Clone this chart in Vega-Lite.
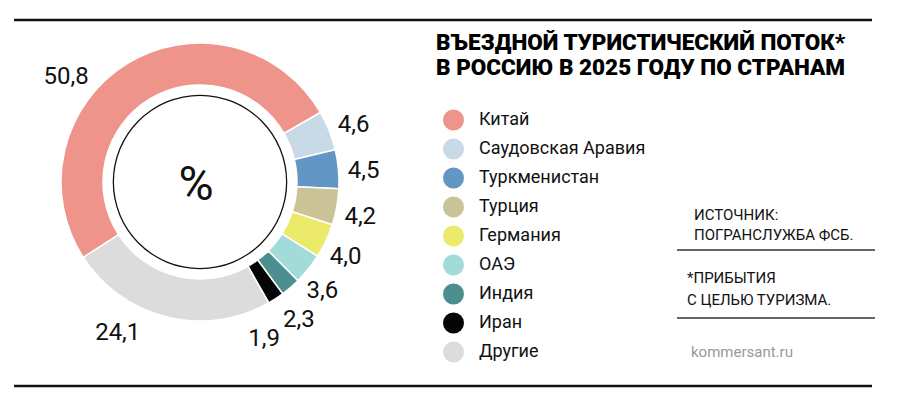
{
  "$schema": "https://vega.github.io/schema/vega-lite/v6.json",
  "background": "#ffffff",
  "padding": {"left": 12, "top": 18, "right": 27, "bottom": 12},
  "spacing": 0,
  "config": {
    "view": {"stroke": null},
    "locale": {"number": {"decimal": ",", "thousands": " ", "grouping": [3], "currency": ["", ""]}},
    "font": "Roboto"
  },
  "vconcat": [
    {
      "width": 858,
      "height": 1,
      "data": {"values": [{}]},
      "mark": {"type": "rule", "color": "#111111", "strokeWidth": 2.5},
      "encoding": {"y": {"value": 0}}
    },
    {
      "hconcat": [
        {
          "width": 372,
          "height": 320,
          "data": {
            "values": [
              {"country": "Китай", "value": 50.8, "order": 1},
              {"country": "Саудовская Аравия", "value": 4.6, "order": 2},
              {"country": "Туркменистан", "value": 4.5, "order": 3},
              {"country": "Турция", "value": 4.2, "order": 4},
              {"country": "Германия", "value": 4.0, "order": 5},
              {"country": "ОАЭ", "value": 3.6, "order": 6},
              {"country": "Индия", "value": 2.3, "order": 7},
              {"country": "Иран", "value": 1.9, "order": 8},
              {"country": "Другие", "value": 24.1, "order": 9}
            ]
          },
          "layer": [
            {
              "mark": {"type": "arc", "innerRadius": 97, "outerRadius": 139, "stroke": "#ffffff", "strokeWidth": 1.5},
              "encoding": {
                "theta": {"field": "value", "type": "quantitative", "stack": true, "scale": {"range": [-2.1447, 4.1385]}},
                "order": {"field": "order", "type": "quantitative"},
                "color": {
                  "field": "country",
                  "type": "nominal",
                  "scale": {
                    "domain": ["Китай", "Саудовская Аравия", "Туркменистан", "Турция", "Германия", "ОАЭ", "Индия", "Иран", "Другие"],
                    "range": ["#ee948a", "#c8d9e8", "#6396c3", "#c9c397", "#ebea6b", "#a2dcd9", "#4d8e91", "#050505", "#dcdcdc"]
                  },
                  "legend": {
                    "orient": "none",
                    "legendX": 422,
                    "legendY": 12,
                    "title": ["ВЪЕЗДНОЙ ТУРИСТИЧЕСКИЙ ПОТОК*", "В РОССИЮ В 2025 ГОДУ ПО СТРАНАМ"],
                    "titleFont": "Roboto",
                    "titleFontSize": 22.5,
                    "titleFontWeight": 900,
                    "titleColor": "#000000",
                    "titleLineHeight": 25,
                    "titleLimit": 600,
                    "titlePadding": 30,
                    "titleBaseline": "top",
                    "symbolType": "circle",
                    "symbolSize": 441,
                    "symbolStrokeWidth": 0,
                    "symbolOpacity": 1,
                    "symbolOffset": 7,
                    "labelFont": "Roboto",
                    "labelFontSize": 18,
                    "labelColor": "#111111",
                    "labelOffset": 15,
                    "labelLimit": 300,
                    "rowPadding": 8,
                    "padding": 0
                  }
                }
              }
            },
            {
              "data": {"values": [{}]},
              "mark": {"type": "arc", "innerRadius": 86, "outerRadius": 87.3, "theta": 0, "theta2": 6.2832, "color": "#111111"},
              "encoding": {}
            },
            {
              "data": {"values": [{}]},
              "mark": {"type": "text", "text": "%", "font": "Roboto", "fontSize": 48, "color": "#111111", "dx": -4, "dy": 4},
              "encoding": {}
            },
            {
              "transform": [
                {"stack": "value", "groupby": [], "sort": [{"field": "order", "order": "ascending"}], "as": ["v0", "v1"]},
                {"filter": "datum.order >= 2 && datum.order <= 6"}
              ],
              "mark": {"type": "text", "radius": 164, "thetaOffset": 0.166, "font": "Roboto", "fontSize": 24, "color": "#111111"},
              "encoding": {
                "theta": {"field": "v0", "type": "quantitative", "stack": null},
                "text": {"field": "value", "type": "quantitative", "format": ".1f"}
              }
            },
            {
              "transform": [
                {"stack": "value", "groupby": [], "sort": [{"field": "order", "order": "ascending"}], "as": ["v0", "v1"]},
                {"filter": "datum.order === 7"}
              ],
              "mark": {"type": "text", "radius": 170, "thetaOffset": 0.16, "font": "Roboto", "fontSize": 24, "color": "#111111"},
              "encoding": {
                "theta": {"field": "v0", "type": "quantitative", "stack": null},
                "text": {"field": "value", "type": "quantitative", "format": ".1f"}
              }
            },
            {
              "transform": [
                {"stack": "value", "groupby": [], "sort": [{"field": "order", "order": "ascending"}], "as": ["v0", "v1"]},
                {"filter": "datum.order === 8"}
              ],
              "mark": {"type": "text", "radius": 170, "thetaOffset": 0.25, "font": "Roboto", "fontSize": 24, "color": "#111111"},
              "encoding": {
                "theta": {"field": "v0", "type": "quantitative", "stack": null},
                "text": {"field": "value", "type": "quantitative", "format": ".1f"}
              }
            },
            {
              "transform": [
                {"stack": "value", "groupby": [], "sort": [{"field": "order", "order": "ascending"}], "as": ["v0", "v1"]},
                {"filter": "datum.order === 1"}
              ],
              "mark": {"type": "text", "radius": 170, "thetaOffset": 1.2375, "font": "Roboto", "fontSize": 24, "color": "#111111"},
              "encoding": {
                "theta": {"field": "v0", "type": "quantitative", "stack": null},
                "text": {"field": "value", "type": "quantitative", "format": ".1f"}
              }
            },
            {
              "transform": [
                {"stack": "value", "groupby": [], "sort": [{"field": "order", "order": "ascending"}], "as": ["v0", "v1"]},
                {"filter": "datum.order === 9"}
              ],
              "mark": {"type": "text", "radius": 172, "thetaOffset": 1.016, "font": "Roboto", "fontSize": 24, "color": "#111111"},
              "encoding": {
                "theta": {"field": "v0", "type": "quantitative", "stack": null},
                "text": {"field": "value", "type": "quantitative", "format": ".1f"}
              }
            }
          ]
        },
        {
          "vconcat": [
            {
              "width": 198,
              "height": 180,
              "data": {"values": [{}]},
              "mark": {"type": "rule", "strokeOpacity": 0},
              "encoding": {"y": {"value": 0}},
              "title": {"text": ["ИСТОЧНИК:", "ПОГРАНСЛУЖБА ФСБ."], "orient": "bottom", "anchor": "start", "frame": "group", "offset": 6, "dx": 17, "baseline": "top", "font": "Roboto", "fontSize": 15, "fontWeight": "normal", "lineHeight": 20, "color": "#111111"}
            },
            {
              "width": 198,
              "height": 48,
              "data": {"values": [{}]},
              "mark": {"type": "rule", "color": "#333333", "strokeWidth": 1.5},
              "encoding": {"y": {"value": "height"}},
              "title": {"text": ["*ПРИБЫТИЯ", "  С ЦЕЛЬЮ ТУРИЗМА."], "orient": "bottom", "anchor": "start", "frame": "group", "offset": 20, "dx": 10, "baseline": "top", "font": "Roboto", "fontSize": 15, "fontWeight": "normal", "lineHeight": 22, "color": "#111111"}
            },
            {
              "width": 198,
              "height": 68,
              "data": {"values": [{}]},
              "mark": {"type": "rule", "color": "#333333", "strokeWidth": 1.5},
              "encoding": {"y": {"value": "height"}},
              "title": {"text": "kommersant.ru", "orient": "bottom", "anchor": "start", "frame": "group", "offset": 26, "dx": 14, "baseline": "top", "font": "Roboto", "fontSize": 15, "fontWeight": "normal", "color": "#999999"}
            },
            {
              "width": 198,
              "height": 66,
              "data": {"values": [{}]},
              "mark": {"type": "rule", "strokeOpacity": 0},
              "encoding": {"y": {"value": "height"}}
            }
          ],
          "spacing": 0,
          "bounds": "flush"
        }
      ],
      "spacing": 291,
      "bounds": "flush"
    },
    {
      "width": 858,
      "height": 1,
      "data": {"values": [{}]},
      "mark": {"type": "rule", "color": "#111111", "strokeWidth": 2.5},
      "encoding": {"y": {"value": 0}}
    }
  ]
}
